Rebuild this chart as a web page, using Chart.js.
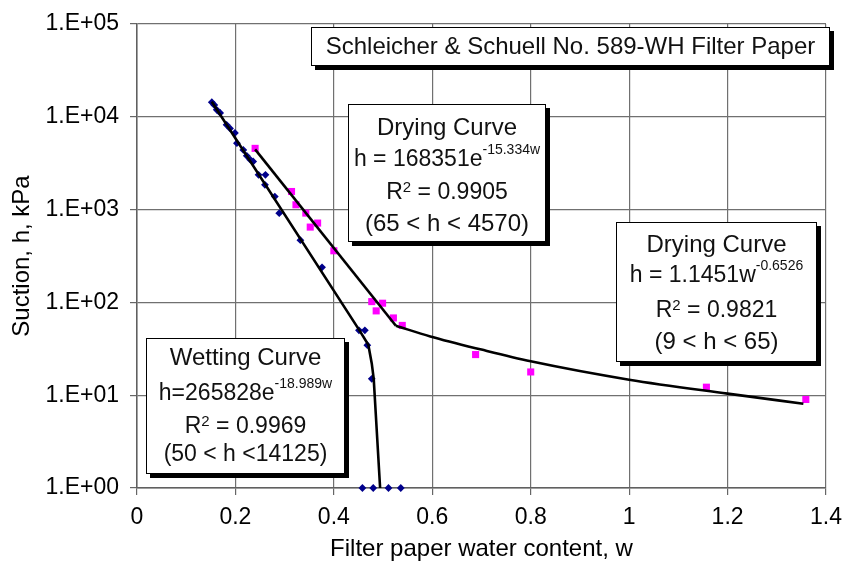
<!DOCTYPE html>
<html>
<head>
<meta charset="utf-8">
<script src="https://cdn.jsdelivr.net/npm/chart.js@4.4.1/dist/chart.umd.min.js"></script>
<style>
    html, body { margin: 0; padding: 0; background: #fff; }
    #wrap { width: 843px; height: 562px; }
</style>
</head>
<body>
<div id="wrap"><canvas id="chart" width="843" height="562"></canvas></div>
<script>
// Wetting path measurements: water content w and suction h (kPa)
const wettingW = [0.152, 0.157, 0.162, 0.169, 0.182, 0.189, 0.199, 0.203, 0.216, 0.223, 0.230, 0.236,
                  0.247, 0.261, 0.260, 0.280, 0.289, 0.332, 0.376, 0.451, 0.463, 0.468, 0.477,
                  0.458, 0.480, 0.511, 0.536];
const wettingH = [14350, 13400, 11900, 11000, 8200, 7500, 6700, 5200, 4400, 3800, 3450, 3300,
                  2370, 2370, 1850, 1380, 916, 468, 239, 50, 50, 34.6, 15,
                  1, 1, 1, 1];

// Drying path measurements
const dryingW = [0.240, 0.314, 0.323, 0.343, 0.352, 0.367, 0.400, 0.477, 0.499, 0.486, 0.521, 0.539,
                 0.688, 0.800, 1.157, 1.359];
const dryingH = [4570, 1567, 1127, 917, 648, 716, 360, 102, 98, 81, 68, 56.5,
                 27.4, 17.8, 12.2, 9.0];

// Fitted curves
const wetFitW = [0.152, 0.452, 0.470, 0.477, 0.481, 0.487, 0.494];
const wetFitH = [14500, 50, 35, 22, 15, 4.3, 1];
const dryExpW = [0.240, 0.526];
const dryExpH = [4450, 56];
const dryPowW = [0.526, 0.596, 0.700, 0.800, 1.000, 1.200, 1.354];
const dryPowH = [56, 43, 31, 23.2, 14.7, 10.4, 8.1];

// Axis ticks
const xTickValues = [0, 0.2, 0.4, 0.6, 0.8, 1, 1.2, 1.4];
const xTickLabels = ['0', '0.2', '0.4', '0.6', '0.8', '1', '1.2', '1.4'];
const yTickValues = [1, 10, 100, 1000, 10000, 100000];
const yTickLabels = ['1.E+00', '1.E+01', '1.E+02', '1.E+03', '1.E+04', '1.E+05'];

const FONT = "'Liberation Sans', Arial, Helvetica, sans-serif";

function toPoints(xs, ys) {
    return xs.map((x, i) => ({ x: x, y: ys[i] }));
}

// Boxed notes: each line is a list of [text, raise, size] segments
const notes = [
    { x: 311, y: 27, w: 519, h: 39, lines: [
        { base: 54, segs: [['Schleicher & Schuell No. 589-WH Filter Paper', 0, 24]] }
    ]},
    { x: 348, y: 104, w: 198, h: 138, lines: [
        { base: 135, segs: [['Drying Curve', 0, 24]] },
        { base: 166, segs: [['h = 168351e', 0, 23], ['-15.334w', 12, 14]] },
        { base: 199, segs: [['R', 0, 23], ['2', 7, 15], [' = 0.9905', 0, 23]] },
        { base: 231, segs: [['(65 < h < 4570)', 0, 24]] }
    ]},
    { x: 616, y: 222, w: 201, h: 140, lines: [
        { base: 252, segs: [['Drying Curve', 0, 24]] },
        { base: 282, segs: [['h = 1.1451w', 0, 23], ['-0.6526', 12, 14]] },
        { base: 317, segs: [['R', 0, 23], ['2', 7, 15], [' = 0.9821', 0, 23]] },
        { base: 349, segs: [['(9 < h < 65)', 0, 24]] }
    ]},
    { x: 146, y: 338, w: 199, h: 136, lines: [
        { base: 365, segs: [['Wetting Curve', 0, 24]] },
        { base: 400, segs: [['h=265828e', 0, 23], ['-18.989w', 12, 14]] },
        { base: 433, segs: [['R', 0, 23], ['2', 7, 15], [' = 0.9969', 0, 23]] },
        { base: 461, segs: [['(50 < h <14125)', 0, 23]] }
    ]}
];

const notePlugin = {
    id: 'notes',
    afterDraw(chart) {
        const ctx = chart.ctx;
        ctx.save();
        notes.forEach(n => {
            // shadow, then white face with a thin border
            ctx.fillStyle = '#000';
            ctx.fillRect(n.x + 4, n.y + 4, n.w, n.h);
            ctx.fillStyle = '#fff';
            ctx.fillRect(n.x, n.y, n.w, n.h);
            ctx.strokeStyle = '#000';
            ctx.lineWidth = 1;
            ctx.strokeRect(n.x + 0.5, n.y + 0.5, n.w - 1, n.h - 1);

            ctx.fillStyle = '#111';
            ctx.textBaseline = 'alphabetic';
            ctx.textAlign = 'left';
            const cx = n.x + n.w / 2;
            n.lines.forEach(line => {
                let total = 0;
                const widths = line.segs.map(s => {
                    ctx.font = s[2] + 'px ' + FONT;
                    const wd = ctx.measureText(s[0]).width;
                    total += wd;
                    return wd;
                });
                let x = cx - total / 2;
                line.segs.forEach((s, i) => {
                    ctx.font = s[2] + 'px ' + FONT;
                    ctx.fillText(s[0], x, line.base - s[1]);
                    x += widths[i];
                });
            });
        });
        ctx.restore();
    }
};

const lineStyle = {
    type: 'line',
    borderColor: '#000',
    borderWidth: 2.6,
    pointRadius: 0,
    fill: false,
    showLine: true,
    clip: false
};

new Chart(document.getElementById('chart'), {
    type: 'scatter',
    data: {
        datasets: [
            Object.assign({ label: 'Wetting fit', data: toPoints(wetFitW, wetFitH), tension: 0 }, lineStyle),
            Object.assign({ label: 'Drying fit (exp)', data: toPoints(dryExpW, dryExpH), tension: 0 }, lineStyle),
            Object.assign({ label: 'Drying fit (power)', data: toPoints(dryPowW, dryPowH),
                cubicInterpolationMode: 'monotone' }, lineStyle),
            {
                label: 'Wetting',
                data: toPoints(wettingW, wettingH),
                pointStyle: 'rectRot',
                pointRadius: 3.9,
                backgroundColor: '#00008b',
                borderColor: '#00008b',
                borderWidth: 0,
                clip: false
            },
            {
                label: 'Drying',
                data: toPoints(dryingW, dryingH),
                pointStyle: 'rect',
                pointRadius: 5,
                backgroundColor: '#ff00ff',
                borderColor: '#ff00ff',
                borderWidth: 0,
                clip: false
            }
        ]
    },
    options: {
        responsive: false,
        animation: false,
        events: [],
        layout: { padding: { top: 24, right: 17, left: 0, bottom: 0 } },
        plugins: {
            legend: { display: false },
            tooltip: { enabled: false }
        },
        scales: {
            x: {
                type: 'linear',
                min: 0,
                max: 1.4,
                afterBuildTicks: scale => {
                    scale.ticks = xTickValues.map(v => ({ value: v }));
                },
                afterFit: scale => {
                    // fixed axis band; no extra room for the end labels
                    scale.height = 74;
                    scale.paddingLeft = 0;
                    scale.paddingRight = 0;
                },
                ticks: {
                    color: '#000',
                    font: { family: FONT, size: 23 },
                    padding: 9,
                    maxRotation: 0,
                    autoSkip: false,
                    callback: (v, i) => xTickLabels[i]
                },
                grid: { color: '#707070', lineWidth: 1.2, tickLength: 7, tickColor: '#666' },
                border: { color: '#606060', width: 1.5 },
                title: {
                    display: true,
                    text: 'Filter paper water content, w',
                    color: '#000',
                    font: { family: FONT, size: 24, lineHeight: 1 },
                    padding: { top: 0, bottom: 1 }
                }
            },
            y: {
                type: 'logarithmic',
                min: 1,
                max: 100000,
                afterBuildTicks: scale => {
                    scale.ticks = yTickValues.map(v => ({ value: v }));
                },
                afterFit: scale => {
                    scale.width = 137;
                    scale.paddingTop = 0;
                    scale.paddingBottom = 0;
                },
                ticks: {
                    color: '#000',
                    font: { family: FONT, size: 23 },
                    padding: 11,
                    autoSkip: false,
                    callback: (v, i) => yTickLabels[i]
                },
                grid: { color: '#707070', lineWidth: 1.2, tickLength: 7, tickColor: '#666' },
                border: { color: '#606060', width: 1.5 },
                title: {
                    display: true,
                    text: 'Suction, h, kPa',
                    color: '#000',
                    font: { family: FONT, size: 24, lineHeight: 1 },
                    padding: { top: 10, bottom: 0 }
                }
            }
        }
    },
    plugins: [notePlugin]
});
</script>
</body>
</html>
